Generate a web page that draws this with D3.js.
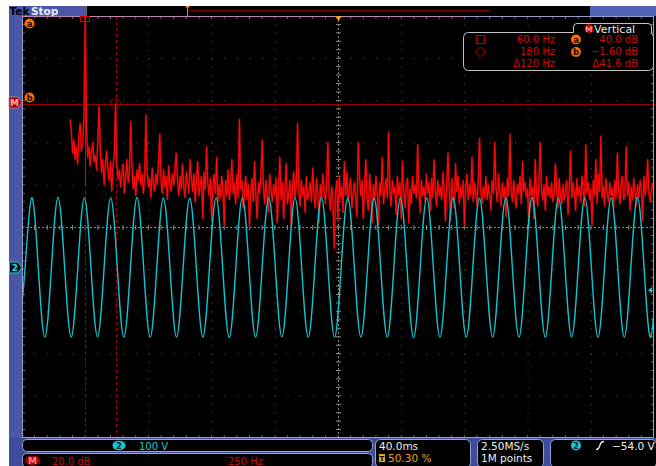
<!DOCTYPE html>
<html><head><meta charset="utf-8">
<script src="https://cdn.jsdelivr.net/npm/d3@7"></script>
<style>
html,body{margin:0;padding:0;background:#fff;}
svg{display:block;}
text{font-family:"DejaVu Sans",sans-serif;}
</style></head><body><svg id="c" width="656" height="466"></svg>
<script>
// ---- Channel 2: mains voltage, 100 V/div, 40 ms/div ----
const ch2FirstExtremeMs = -202.2;   // a trough just left of the screen
const ch2HalfPeriodMs = 8.335;      // 60 Hz
// alternating trough / crest voltages across the record
const ch2Extremes = [
  -165, 165, -165, 166, -165, 165, -164, 165, -165, 166, -165, 165,
  -165, 164, -165, 165, -166, 165, -165, 165, -164, 165, -165, 166,
  -165, 165, -165, 164, -165, 165, -166, 165, -165, 165, -165, 164,
  -165, 165, -165, 166, -165, 165, -164, 165, -165, 165, -165, 166,
  -165, 165
];

// ---- Math: FFT of channel 2, 20 dB/div, 250 Hz/div, one value per 5 Hz ----
const fftStepHz = 5;
const fftDb = [
  -9,-14,-25,-19,-28,-22,-30,-17,-11,-24,
  -20,-8,40,-12,-27,-22,-31,-24,-20,-29,
  -26,-33,-18,-3,-25,-34,-28,-40,-30,-24,
  -33,-38,-29,-43,-31,-26,-1.6,-30,-37,-33,
  -41,-35,-30,-44,-36,-28,-39,-33,-10,-31,
  -42,-36,-45,-33,-38,-30,-40,-35,-44,-37,
  -7,-34,-41,-37,-46,-32,-39,-43,-35,-40,
  -29,-16,-38,-44,-33,-41,-36,-47,-31,-39,
  -43,-35,-40,-32,-25,-38,-45,-36,-42,-30,
  -41,-46,-34,-39,-44,-28,-37,-43,-35,-48,
  -38,-29,-45,-40,-36,-56,-34,-42,-22,-39,
  -45,-37,-57,-41,-35,-44,-27,-48,-40,-46,
  -36,-43,-59,-38,-45,-33,-47,-41,-28,-44,
  -39,-49,-35,-46,-9,-42,-38,-51,-44,-36,
  -47,-40,-60,-43,-37,-48,-29,-45,-56,-39,
  -44,-36,-19,-41,-49,-38,-46,-53,-35,-42,
  -48,-40,-45,-37,-58,-43,-27,-47,-39,-56,
  -42,-30,-49,-44,-38,-59,-41,-34,-46,-40,
  -11,-43,-50,-38,-45,-41,-53,-36,-47,-44,
  -39,-48,-32,-45,-51,-37,-44,-58,-40,-46,
  -35,-43,-49,-38,-20,-45,-52,-41,-47,-70,
  -44,-38,-57,-36,-46,-41,-53,-29,-45,-34,
  -48,-42,-37,-51,-44,-39,-47,-55,-20,-36,
  -45,-38,-56,-41,-28,-46,-52,-35,-43,-58,
  -40,-47,-36,-44,-59,-39,-45,-27,-49,-42,
  -37,-46,-15,-43,-50,-38,-44,-41,-54,-36,
  -45,-39,-56,-29,-43,-51,-40,-37,-58,-42,
  -49,-36,-44,-40,-46,-21,-42,-53,-38,-45,
  -41,-48,-35,-44,-39,-52,-37,-46,-28,-43,
  -50,-38,-45,-41,-47,-34,-44,-57,-40,-25,
  -42,-57,-37,-45,-51,-30,-43,-36,-49,-41,
  -46,-38,-59,-42,-35,-47,-40,-45,-27,-48,
  -39,-44,-50,-37,-18,-43,-49,-41,-46,-36,
  -47,-40,-45,-52,-38,-44,-20,-42,-48,-35,
  -43,-50,-39,-46,-41,-55,-37,-45,-16,-42,
  -48,-38,-45,-51,-40,-44,-36,-49,-29,-43,
  -39,-46,-42,-60,-37,-45,-41,-56,-28,-44,
  -50,-38,-20,-43,-47,-40,-52,-36,-45,-41,
  -46,-39,-48,-44,-30,-42,-51,-37,-45,-49,
  -40,-47,-43,-38,-54,-41,-24,-46,-39,-44,
  -52,-37,-45,-41,-48,-36,-43,-50,-21,-44,
  -39,-47,-42,-59,-38,-45,-28,-49,-35,-43,
  -17,-46,-41,-50,-37,-44,-48,-39,-45,-42,
  -51,-38,-46,-25,-43,-49,-40,-36,-47,-44,
  -22,-45,-39,-52,-41,-47,-37,-44,-50,-40,
  -46,-38,-43,-57,-36,-45,-41,-28,-44,-48,
  -42,-39,-45
];

// ---- Cursors (a, b) on the math trace ----
const cursorFreq = [60, 180];
const cursorDb = [40.0, -1.60];

// ---- Readout labels ----
const ch2Scale = "100 V";
const mathScale = "20.0 dB";
const mathSpan = "250 Hz";
const timeDiv = "40.0ms";
const trigPos = "50.30 %";
const sampleRate = "2.50MS/s";
const recordLen = "1M points";
const trigLevel = "\u221254.0 V";

const svg = d3.select("#c");
const P = {l: 22, r: 654, t: 16, b: 438};
const divX = (P.r - P.l) / 10, divY = (P.b - P.t) / 10;

// scales
const tScale = d3.scaleLinear().domain([-200, 200]).range([P.l, P.r]);
const vScale = d3.scaleLinear().domain([-404, 596]).range([P.b, P.t]);
const fScale = d3.scaleLinear().domain([-190, 2310]).range([P.l, P.r]);
const dbScale = d3.scaleLinear().domain([-160, 40]).range([P.b, P.t]);

// screen background
svg.append("rect").attr("x", 9).attr("y", 6).attr("width", 647).attr("height", 460).attr("fill", "#000");
// left blue strip and status bar
const blue = "#4b56a6";
svg.append("rect").attr("x", 9).attr("y", 6).attr("width", 13).attr("height", 460).attr("fill", blue);
svg.append("rect").attr("x", 9).attr("y", 6).attr("width", 77).attr("height", 10).attr("fill", blue);
svg.append("rect").attr("x", 590).attr("y", 6).attr("width", 66).attr("height", 10).attr("fill", "#5262b4");
svg.append("text").attr("x", 9.5).attr("y", 15.3).attr("font-size", 10.5).attr("font-weight", "bold").attr("fill", "#000").text("Tek");
svg.append("text").attr("x", 31).attr("y", 15.3).attr("font-size", 10.5).attr("font-weight", "bold").attr("fill", "#e8ecff").text("Stop");
svg.append("line").attr("x1", 86.5).attr("x2", 86.5).attr("y1", 6).attr("y2", 16).attr("stroke", "#666");
// record view
svg.append("line").attr("x1", 188).attr("x2", 490).attr("y1", 10.5).attr("y2", 10.5).attr("stroke", "#7a0000").attr("stroke-width", 1.5);
svg.append("line").attr("x1", 187.5).attr("x2", 187.5).attr("y1", 8).attr("y2", 16).attr("stroke", "#999");
svg.append("path").attr("d", "M185,6 L190,6 L187.5,9 Z").attr("fill", "#e08a20");

// bottom band
svg.append("rect").attr("x", 9).attr("y", 438).attr("width", 647).attr("height", 28).attr("fill", "#3e4c9e");

// graticule
const g = svg.append("g");
const gridCol = "#5c5c50";
for (let k = 1; k < 10; k++) {
  if (k === 5) continue;
  const x = P.l + k * divX;
  for (let j = 1; j < 50; j++) g.append("rect").attr("x", x).attr("y", P.t + j * divY / 5).attr("width", 1).attr("height", 1).attr("fill", gridCol);
  const y = P.t + k * divY;
  for (let j = 1; j < 50; j++) g.append("rect").attr("x", P.l + j * divX / 5).attr("y", y).attr("width", 1).attr("height", 1).attr("fill", gridCol);
}
const cx = P.l + 5 * divX, cy = P.t + 5 * divY;
const ctrCol = "#8a8a74";
g.append("line").attr("x1", P.l).attr("x2", P.r).attr("y1", cy + 0.5).attr("y2", cy + 0.5).attr("stroke", ctrCol).attr("stroke-dasharray", "2,2");
g.append("line").attr("x1", cx + 0.5).attr("x2", cx + 0.5).attr("y1", P.t).attr("y2", P.b).attr("stroke", ctrCol).attr("stroke-dasharray", "2,2");
for (let j = 1; j < 50; j++) {
  const x = P.l + j * divX / 5;
  g.append("line").attr("x1", x).attr("x2", x).attr("y1", cy - 2).attr("y2", cy + 3).attr("stroke", ctrCol);
  g.append("line").attr("x1", x).attr("x2", x).attr("y1", P.t).attr("y2", P.t + 3).attr("stroke", "#6a6a60");
  g.append("line").attr("x1", x).attr("x2", x).attr("y1", P.b - 3).attr("y2", P.b).attr("stroke", "#6a6a60");
  const y = P.t + j * divY / 5;
  g.append("line").attr("x1", cx - 2).attr("x2", cx + 3).attr("y1", y).attr("y2", y).attr("stroke", ctrCol);
  g.append("line").attr("x1", P.l).attr("x2", P.l + 3).attr("y1", y).attr("y2", y).attr("stroke", "#6a6a60");
  g.append("line").attr("x1", P.r - 3).attr("x2", P.r).attr("y1", y).attr("y2", y).attr("stroke", "#6a6a60");
}

// clip
svg.append("clipPath").attr("id", "pc").append("rect").attr("x", P.l).attr("y", P.t).attr("width", P.r - P.l).attr("height", P.b - P.t);

// cursors
const curCol = "#9a0000";
const cxA = fScale(cursorFreq[0]), cxB = fScale(cursorFreq[1]);
const cyA = dbScale(cursorDb[0]), cyB = dbScale(cursorDb[1]);
[cxA, cxB].forEach(x => svg.append("line").attr("x1", Math.round(x) + 0.5).attr("x2", Math.round(x) + 0.5).attr("y1", P.t).attr("y2", P.b)
  .attr("stroke", curCol).attr("stroke-dasharray", "3,3"));
svg.append("line").attr("x1", P.l).attr("x2", P.r).attr("y1", Math.round(cyB) + 0.5).attr("y2", Math.round(cyB) + 0.5).attr("stroke", curCol);

// FFT trace: a dim wide underlay plus the bright trace
const fftLine = d3.line().x((d, i) => fScale(i * fftStepHz)).y(d => dbScale(d));
svg.append("path").attr("clip-path", "url(#pc)").attr("d", fftLine(fftDb)).attr("fill", "none")
  .attr("stroke", "#800000").attr("stroke-width", 2).attr("stroke-linejoin", "round");
svg.append("path").attr("clip-path", "url(#pc)").attr("d", fftLine(fftDb)).attr("fill", "none")
  .attr("stroke", "#ff0a0a").attr("stroke-width", 1.1).attr("stroke-linejoin", "round");

// channel 2 trace: crests/troughs with zero crossings between them
const ch2Pts = [];
ch2Extremes.forEach((v, i) => {
  const t = ch2FirstExtremeMs + i * ch2HalfPeriodMs;
  ch2Pts.push([t, v]);
  if (i < ch2Extremes.length - 1) ch2Pts.push([t + ch2HalfPeriodMs / 2, 0]);
});
const ch2Line = d3.line().x(d => tScale(d[0])).y(d => vScale(d[1])).curve(d3.curveNatural);
svg.append("path").attr("clip-path", "url(#pc)").attr("d", ch2Line(ch2Pts)).attr("fill", "none")
  .attr("stroke", "#12c4d0").attr("stroke-width", 1.4);

// frame
svg.append("rect").attr("x", P.l + 0.5).attr("y", P.t + 0.5).attr("width", P.r - P.l - 1).attr("height", P.b - P.t - 1)
  .attr("fill", "none").attr("stroke", "#9a9ccc");
svg.append("line").attr("x1", P.l).attr("x2", 463).attr("y1", Math.round(cyA) + 0.5).attr("y2", Math.round(cyA) + 0.5).attr("stroke", "#c488b8");

// cursor symbols
svg.append("rect").attr("x", Math.round(cxA) - 4.5).attr("y", P.t + 0.5).attr("width", 9).attr("height", 5).attr("fill", "none").attr("stroke", "#d00000");
svg.append("line").attr("x1", Math.round(cxA) + 0.5).attr("x2", Math.round(cxA) + 0.5).attr("y1", P.t).attr("y2", P.t + 170).attr("stroke", "#ee0000");
svg.append("circle").attr("cx", cxB).attr("cy", cyB).attr("r", 5).attr("fill", "none").attr("stroke", "#a00000");

// trigger position marker
svg.append("path").attr("d", `M${cx - 3},${P.t} L${cx + 4},${P.t} L${cx + 0.5},${P.t + 5} Z`).attr("fill", "#f0a020");
// trigger level arrow on right
const tlY = vScale(-54);
svg.append("path").attr("d", `M${P.r - 6},${tlY} L${P.r - 2},${tlY - 3} L${P.r - 2},${tlY + 3} Z`).attr("fill", "#20c8d8");
svg.append("line").attr("x1", P.r - 3).attr("x2", P.r).attr("y1", tlY).attr("y2", tlY).attr("stroke", "#20c8d8");

// left markers
function badge(x, y, letter) {
  svg.append("circle").attr("cx", x).attr("cy", y).attr("r", 5).attr("fill", "#ff6a00");
  svg.append("text").attr("x", x).attr("y", y + 3).attr("text-anchor", "middle").attr("font-size", 8.5).attr("font-weight", "bold").attr("fill", "#2a0a00").text(letter);
}
badge(29.5, 23.5, "a");
badge(29.5, 97.5, "b");
const mY = 102.5;
svg.append("path").attr("d", `M9,${mY - 5.5} L18,${mY - 5.5} L22,${mY} L18,${mY + 5.5} L9,${mY + 5.5} Z`).attr("fill", "#9a0000").attr("stroke", "#d08080").attr("stroke-width", 0.8);
svg.append("text").attr("x", 14.5).attr("y", mY + 3.5).attr("text-anchor", "middle").attr("font-size", 9).attr("font-weight", "bold").attr("fill", "#ffb0b0").text("M");
const c2Y = vScale(0);
svg.append("path").attr("d", `M9.5,${c2Y - 5.5} L18,${c2Y - 5.5} L22,${c2Y} L18,${c2Y + 5.5} L9.5,${c2Y + 5.5} Z`).attr("fill", "#001418").attr("stroke", "#20c8d8").attr("stroke-width", 1);
svg.append("text").attr("x", 15).attr("y", c2Y + 3.5).attr("text-anchor", "middle").attr("font-size", 9).attr("font-weight", "bold").attr("fill", "#30d8e8").text("2");

// cursor readout box
const boxStroke = "#c4c4c4", red = "#cc0a0a";
svg.append("rect").attr("x", 463.5).attr("y", 32.5).attr("width", 190).attr("height", 38).attr("rx", 5).attr("fill", "#000").attr("stroke", boxStroke);
svg.append("path").attr("d", "M573.5,33 L573.5,27 Q573.5,23.5 577,23.5 L648,23.5 Q651.5,23.5 651.5,27 L651.5,33").attr("fill", "#000").attr("stroke", boxStroke);
svg.append("circle").attr("cx", 589).attr("cy", 28.5).attr("r", 4.5).attr("fill", "#c00000");
svg.append("text").attr("x", 589).attr("y", 31.5).attr("text-anchor", "middle").attr("font-size", 7.5).attr("font-weight", "bold").attr("fill", "#ff9090").text("M");
svg.append("text").attr("x", 594).attr("y", 32.5).attr("font-size", 11).attr("fill", "#e8e8e8").text("Vertical");
svg.append("rect").attr("x", 476.5).attr("y", 35.5).attr("width", 8).attr("height", 8).attr("fill", "none").attr("stroke", "#b00000");
svg.append("circle").attr("cx", 480.5).attr("cy", 52).attr("r", 4.3).attr("fill", "none").attr("stroke", "#b00000");
const fmtF = f => (f < 100 ? d3.format(".1f")(f) : d3.format(".0f")(f)) + " Hz";
const rows = [
  [fmtF(cursorFreq[0]), d3.format(".1f")(cursorDb[0]) + " dB"],
  [fmtF(cursorFreq[1]), d3.format(".2f")(cursorDb[1]).replace("-", "\u2212") + " dB"],
  ["\u0394" + d3.format(".0f")(cursorFreq[1] - cursorFreq[0]) + " Hz", "\u0394" + d3.format(".1f")(cursorDb[0] - cursorDb[1]) + " dB"]
];
rows.forEach((r, i) => {
  const y = 43 + i * 12;
  svg.append("text").attr("x", 555).attr("y", y).attr("text-anchor", "end").attr("font-size", 10).attr("fill", red).text(r[0]);
  svg.append("text").attr("x", 638).attr("y", y).attr("text-anchor", "end").attr("font-size", 10).attr("fill", red).text(r[1]);
});
badge(576, 39.5, "a");
badge(576, 52, "b");

// bottom readouts
const bStroke = "#9aa4d4";
svg.append("rect").attr("x", 22.5).attr("y", 439.5).attr("width", 350).attr("height", 12).attr("rx", 4).attr("fill", "#000").attr("stroke", bStroke);
svg.append("rect").attr("x", 22.5).attr("y", 453.5).attr("width", 350).attr("height", 14).attr("rx", 4).attr("fill", "#000").attr("stroke", bStroke);
svg.append("ellipse").attr("cx", 119).attr("cy", 445.5).attr("rx", 6.5).attr("ry", 4.8).attr("fill", "#18c8d8");
svg.append("text").attr("x", 119).attr("y", 449).attr("text-anchor", "middle").attr("font-size", 8.5).attr("font-weight", "bold").attr("fill", "#00282c").text("2");
svg.append("text").attr("x", 139).attr("y", 449.5).attr("font-size", 10).attr("fill", "#28c4d4").text(ch2Scale);
svg.append("ellipse").attr("cx", 32.5).attr("cy", 460.5).attr("rx", 7.5).attr("ry", 5).attr("fill", "#a00000");
svg.append("text").attr("x", 32.5).attr("y", 464).attr("text-anchor", "middle").attr("font-size", 9).attr("font-weight", "bold").attr("fill", "#ff8080").text("M");
svg.append("text").attr("x", 52).attr("y", 464.5).attr("font-size", 10).attr("fill", red).text(mathScale);
svg.append("text").attr("x", 228).attr("y", 464.5).attr("font-size", 10).attr("fill", red).text(mathSpan);

[[375.5, 95], [477.5, 66], [550.5, 106]].forEach(([x, w]) => {
  svg.append("rect").attr("x", x).attr("y", 439.5).attr("width", w).attr("height", 28).attr("rx", 5).attr("fill", "#000").attr("stroke", bStroke);
});
svg.append("text").attr("x", 379).attr("y", 449.5).attr("font-size", 10.5).attr("fill", "#eee").text(timeDiv);
svg.append("rect").attr("x", 379).attr("y", 454).attr("width", 6).attr("height", 8).attr("fill", "#f0a020");
svg.append("text").attr("x", 382).attr("y", 461).attr("text-anchor", "middle").attr("font-size", 7).attr("font-weight", "bold").attr("fill", "#000").text("T");
svg.append("text").attr("x", 388).attr("y", 462).attr("font-size", 10.5).attr("fill", "#f0a020").text(trigPos);
svg.append("text").attr("x", 481).attr("y", 449.5).attr("font-size", 10.5).attr("fill", "#eee").text(sampleRate);
svg.append("text").attr("x", 481).attr("y", 462).attr("font-size", 10.5).attr("fill", "#eee").text(recordLen);
svg.append("circle").attr("cx", 576).attr("cy", 445.5).attr("r", 5).attr("fill", "#18c8d8");
svg.append("text").attr("x", 576).attr("y", 449).attr("text-anchor", "middle").attr("font-size", 8.5).attr("font-weight", "bold").attr("fill", "#00282c").text("2");
svg.append("path").attr("d", "M596,449.5 Q599,449.5 600,445 Q601,441.5 604,441.5").attr("fill", "none").attr("stroke", "#eee").attr("stroke-width", 1.3);
svg.append("text").attr("x", 612).attr("y", 449.5).attr("font-size", 10.5).attr("fill", "#eee").text(trigLevel);
</script></body></html>
